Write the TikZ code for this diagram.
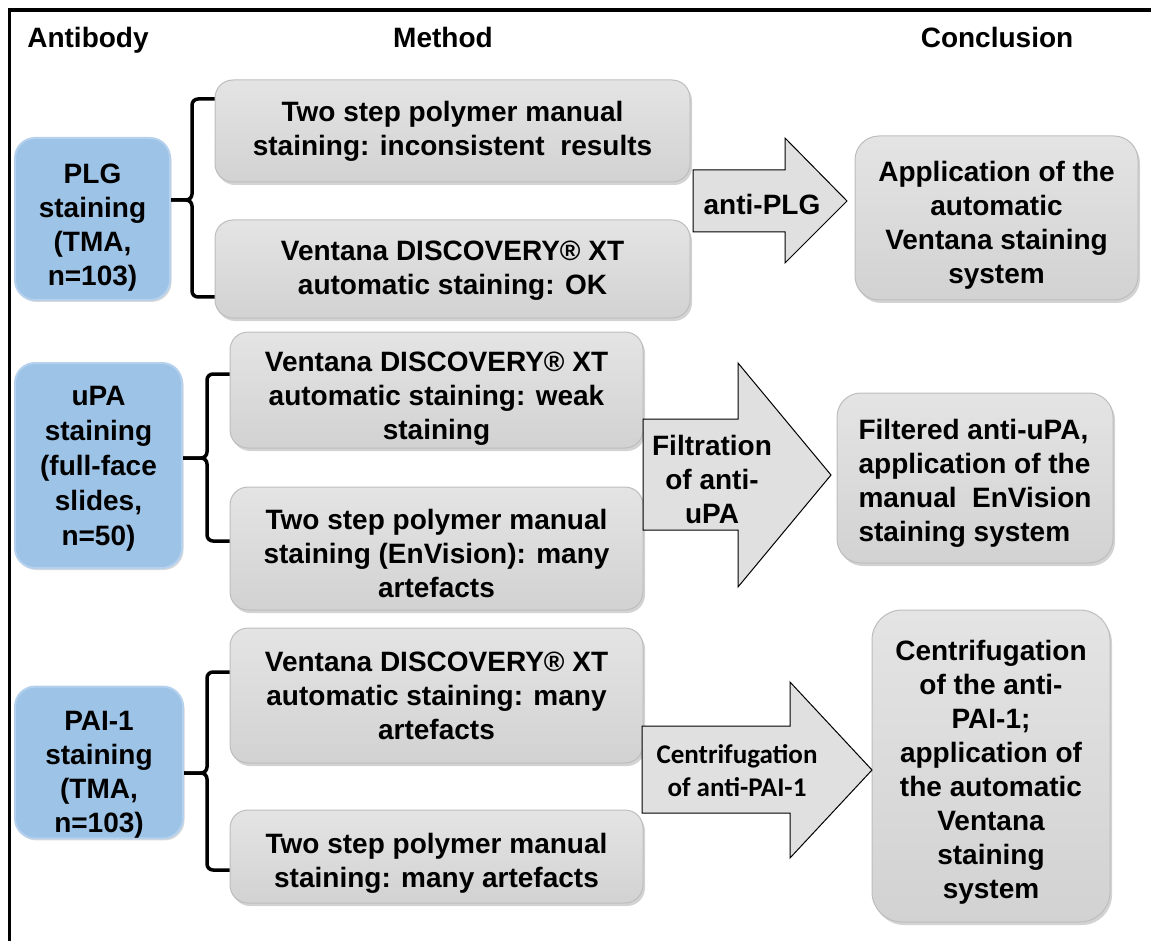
\documentclass[tikz,border=0pt]{standalone}
\usepackage{fontspec}
\setmainfont{Liberation Sans}
\newfontfamily\calibfont{Carlito}
\usetikzlibrary{shadows}
\definecolor{antfill}{HTML}{9DC3E6}
\definecolor{antedge}{HTML}{B5D1EE}
\definecolor{boxtop}{HTML}{E4E4E4}
\definecolor{boxbot}{HTML}{D2D2D2}
\definecolor{boxedge}{HTML}{BDBDBD}
\definecolor{arrfill}{HTML}{E0E0E0}
\newcommand{\vpush}[1]{\rule{0pt}{#1pt}}
\begin{document}
\begin{tikzpicture}[x=1pt,y=-1pt,
  lbl/.style={font=\bfseries\fontsize{28}{34}\selectfont, inner sep=0pt},
  txt/.style={lbl, align=center},
  antibox/.style={txt, rounded corners=20pt, fill=antfill, draw=antedge, line width=2pt,
    drop shadow={shadow xshift=1.5pt, shadow yshift=-2pt, opacity=0.3}},
  methbox/.style={txt, rounded corners=18pt, top color=boxtop, bottom color=boxbot, draw=boxedge, line width=1pt,
    drop shadow={shadow xshift=2pt, shadow yshift=-3pt, opacity=0.35}},
  brace/.style={line width=3.5pt, rounded corners=6pt},
  blockarrow/.style={fill=arrfill, draw=black, line width=1pt, line join=miter},
]
\useasboundingbox (0,0) rectangle (1151,941);
\draw[line width=3.5pt] (9.5,941) -- (9.5,10) -- (1151,10);

% headers
\node[lbl, anchor=base] (hA) at (88,48) {Antibody};
\node[lbl, anchor=base] (hM) at (443,48) {Method};
\node[lbl, anchor=base] (hC) at (997,48) {Conclusion};

% antibody boxes
\node[antibox, minimum width=155pt, minimum height=162pt] (plg) at (92.5,219) {\vpush{36}PLG\\staining\\(TMA,\\n=103)};
\node[antibox, font=\bfseries\fontsize{28}{35}\selectfont, minimum width=167pt, minimum height=205pt] (upa) at (98.5,465.5) {\vpush{25}uPA\\staining\\(full-face\\slides,\\n=50)};
\node[antibox, minimum width=168pt, minimum height=151pt] (pai) at (99,762.5) {\vpush{44}PAI-1\\staining\\(TMA,\\n=103)};

% method boxes
\node[methbox, minimum width=475pt, minimum height=102pt] (m1) at (452.5,131) {Two step polymer manual\\staining: inconsistent~ results};
\node[methbox, minimum width=475pt, minimum height=98pt] (m2) at (452.5,269) {\vpush{23}Ventana DISCOVERY® XT\\automatic staining: OK};
\node[methbox, minimum width=413pt, minimum height=116pt] (m3) at (436.5,390) {\vpush{36}Ventana DISCOVERY® XT\\automatic staining: weak\\staining};
\node[methbox, minimum width=413pt, minimum height=123pt] (m4) at (436.5,548.5) {\vpush{30}Two step polymer manual\\staining (EnVision): many\\artefacts};
\node[methbox, minimum width=413pt, minimum height=135pt] (m5) at (436.5,695.5) {Ventana DISCOVERY® XT\\automatic staining: many\\artefacts};
\node[methbox, minimum width=413pt, minimum height=93pt] (m6) at (436.5,856.5) {\vpush{34}Two step polymer manual\\staining: many artefacts};

% conclusion boxes
\node[methbox, minimum width=283pt, minimum height=164pt, rounded corners=24pt] (c1) at (996.5,218) {\vpush{34}Application of the\\automatic\\Ventana staining\\system};
\node[methbox, align=left, minimum width=276pt, minimum height=170pt, rounded corners=24pt] (c2) at (975,478) {\vpush{30}Filtered anti-uPA,\\application of the\\manual~ EnVision\\staining system};
\node[methbox, minimum width=238pt, minimum height=312pt, rounded corners=30pt] (c3) at (991,766) {\vpush{32}Centrifugation\\of the anti-\\PAI-1;\\application of\\the automatic\\Ventana\\staining\\system};

% braces
\draw[brace] (m1.west |- 0,99) -- (192,99) -- (192,200) -- (plg.east |- 0,200);
\draw[brace] (plg.east |- 0,200) -- (192,200) -- (192,297) -- (m2.west |- 0,297);
\draw[brace] (m3.west |- 0,374) -- (207,374) -- (207,458) -- (upa.east |- 0,458);
\draw[brace] (upa.east |- 0,458) -- (207,458) -- (207,541) -- (m4.west |- 0,541);
\draw[brace] (m5.west |- 0,672) -- (207,672) -- (207,773) -- (pai.east |- 0,773);
\draw[brace] (pai.east |- 0,773) -- (207,773) -- (207,870) -- (m6.west |- 0,870);

% block arrows
\draw[blockarrow] (693,170) -- (785,170) -- (785,138) -- (847,201) -- (785,263) -- (785,232) -- (693,232) -- cycle;
\node[lbl] (a1) at (762,204) {anti-PLG};
\draw[blockarrow] (643,419) -- (738,419) -- (738,363) -- (831,475) -- (738,587) -- (738,530) -- (643,530) -- cycle;
\node[txt] (a2) at (712,479) {Filtration\\of anti-\\uPA};
\draw[blockarrow] (642,726) -- (790,726) -- (790,682) -- (872,770) -- (790,858) -- (790,813) -- (642,813) -- cycle;
\node[txt, font=\calibfont\bfseries\fontsize{27}{33}\selectfont] (a3) at (737,771) {Centrifugation\\of anti-PAI-1};
\end{tikzpicture}
\end{document}
